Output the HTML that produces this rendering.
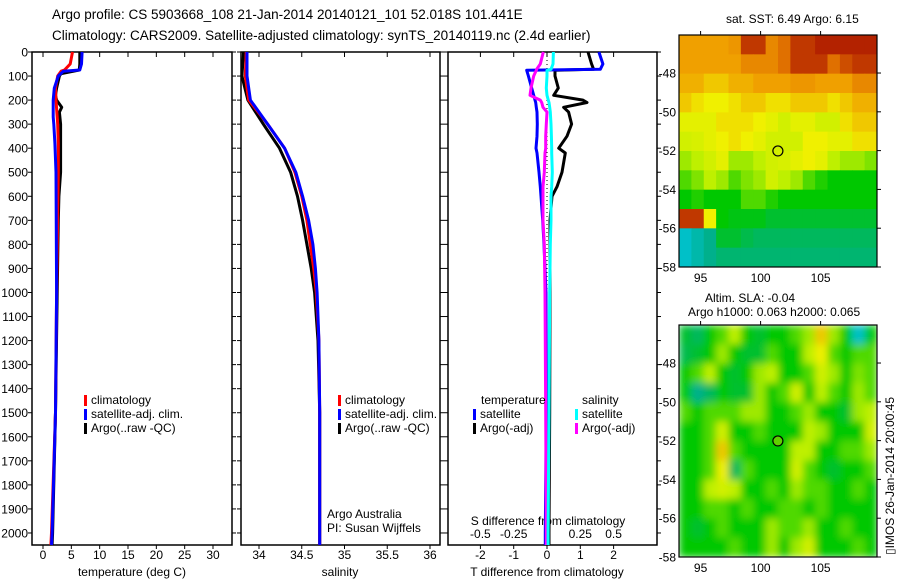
<!DOCTYPE html>
<html><head><meta charset="utf-8"><style>
body{margin:0;background:#fff;}
svg{display:block;font-family:"Liberation Sans",sans-serif;}
</style></head><body>
<svg id="c" width="900" height="580" xmlns="http://www.w3.org/2000/svg">
<defs>
<filter id="blur" x="0" y="0" width="1" height="1"><feGaussianBlur stdDeviation="4" edgeMode="duplicate"/></filter>
<clipPath id="slaclip"><rect x="679" y="325" width="198" height="232"/></clipPath>
</defs>
<text x="52" y="19" font-size="13.5">Argo profile: CS 5903668_108 21-Jan-2014 20140121_101 52.018S 101.441E</text>
<text x="52" y="40" font-size="13.5">Climatology: CARS2009. Satellite-adjusted climatology: synTS_20140119.nc (2.4d earlier)</text>
<text x="726" y="23" font-size="12">sat. SST: 6.49 Argo: 6.15</text>
<text x="705" y="302" font-size="12">Altim. SLA: -0.04</text>
<text x="688" y="316" font-size="12">Argo h1000: 0.063 h2000: 0.065</text>
<text transform="translate(894,555) rotate(-90)" font-size="12">▯IMOS 26-Jan-2014 20:00:45</text>
<text x="327" y="518" font-size="12">Argo Australia</text>
<text x="327" y="532" font-size="12">PI: Susan Wijffels</text>
<g id="g"></g>
</svg>
<script>
// ---- data ----
const depthT = [0,50,75,80,100,150,200,270,300,380,500,1000,1500,2000,2050];
const tempClim = [5.2,4.8,3.8,3.2,2.6,2.2,2.3,2.5,2.6,2.7,2.7,2.4,2.2,1.5,1.4];
const tempSat  = [6.9,6.8,6.5,3.6,2.7,2.0,1.8,1.8,1.9,2.1,2.3,2.4,2.2,1.6,1.5];
const depthArgoT = [0,50,75,90,100,150,180,200,220,230,250,300,400,500,600,700,1000,1500,2000,2050];
const tempArgo = [6.5,6.5,6.4,3.2,2.9,2.4,2.2,2.4,3.0,3.3,2.9,3.1,3.1,3.1,2.8,2.7,2.5,2.2,1.7,1.6];
const depthS = [0,100,200,300,400,500,600,700,800,900,1000,1200,1500,2000,2050];
const salClim = [33.85,33.84,33.88,34.1,34.3,34.42,34.5,34.56,34.6,34.64,34.67,34.7,34.71,34.71,34.71];
const salSat  = [33.86,33.86,33.9,34.1,34.3,34.43,34.51,34.58,34.63,34.66,34.68,34.7,34.71,34.71,34.71];
const salArgo = [33.82,33.8,33.87,34.05,34.24,34.37,34.45,34.51,34.56,34.61,34.65,34.69,34.71,34.71,34.71];
const depthD = [0,50,72,76,100,150,180,200,210,230,250,300,350,400,420,500,560,600,700,800,1000,1500,2000,2050];
const dTsat  = [1.56,1.68,1.6,-0.61,-0.56,-0.46,-0.4,-0.36,-0.34,-0.32,-0.3,-0.29,-0.3,-0.33,-0.3,-0.24,-0.2,-0.18,-0.13,-0.09,-0.03,-0.02,-0.05,-0.05];
const dTargo = [1.23,1.34,1.4,0.24,0.24,0.34,0.2,1.08,1.2,0.5,0.65,0.74,0.6,0.35,0.55,0.45,0.3,0.15,0.09,0.09,0.09,0.08,0.06,0.06];
const dSsat  = [0.048,0.045,0.03,0.0,0.0,-0.005,0.0,0.01,0.015,0.02,0.025,0.03,0.033,0.035,0.035,0.04,0.035,0.03,0.03,0.025,0.02,0.015,0.008,0.008];
const dSargo = [-0.028,-0.05,-0.078,-0.08,-0.1,-0.12,-0.128,-0.05,-0.04,-0.03,0,-0.005,-0.01,-0.01,-0.015,-0.02,-0.03,-0.03,-0.03,-0.02,-0.015,-0.01,-0.005,-0.005];
const depthTicks = [0,100,200,300,400,500,600,700,800,900,1000,1100,1200,1300,1400,1500,1600,1700,1800,1900,2000];
const tempTicks = [0,5,10,15,20,25,30];
const salTicks = [34,34.5,35,35.5,36];
const salTickLabels = ["34","34.5","35","35.5","36"];
const dTTicks = [-2,-1,0,1,2];
const dSTicks = [-0.5,-0.25,0,0.25,0.5];
const dSTickLabels = ["-0.5","-0.25","0","0.25","0.5"];
const mapLonTicks = [95,100,105];
const mapLatTicks = [-48,-50,-52,-54,-56,-58];
const sstGrid = [
[.8,.8,.8,.8,.82,.95,.95,.85,.9,.95,.95,.97,.97,.97,.97,.97],
[.8,.8,.8,.8,.8,.85,.85,.85,.9,.95,.95,.95,.9,.93,.95,.95],
[.78,.78,.75,.75,.78,.78,.8,.8,.8,.82,.82,.8,.8,.8,.85,.85],
[.75,.72,.7,.7,.72,.75,.75,.72,.72,.75,.75,.75,.72,.75,.78,.78],
[.68,.68,.68,.72,.72,.72,.7,.68,.65,.68,.68,.65,.65,.72,.75,.75],
[.65,.66,.68,.7,.72,.7,.68,.65,.65,.65,.7,.7,.68,.68,.72,.72],
[.6,.62,.65,.68,.6,.6,.62,.65,.66,.68,.7,.68,.62,.6,.6,.58],
[.55,.58,.62,.6,.55,.58,.6,.65,.62,.6,.55,.52,.5,.5,.5,.5],
[.5,.52,.5,.5,.5,.55,.55,.52,.5,.5,.5,.5,.5,.5,.5,.5],
[.95,.95,.7,.5,.48,.48,.48,.45,.45,.45,.45,.45,.45,.45,.45,.45],
[.25,.3,.35,.45,.45,.42,.4,.4,.4,.4,.4,.4,.4,.4,.4,.4],
[.25,.3,.35,.38,.38,.38,.38,.38,.38,.38,.38,.38,.38,.38,.38,.38]];
const slaGrid = [
[.45,.4,.5,.55,.62,.5,.45,.5,.5,.55,.6,.75,.6,.5,.25,.5],
[.42,.45,.5,.6,.5,.45,.45,.55,.5,.5,.62,.7,.55,.5,.55,.55],
[.5,.55,.62,.5,.45,.5,.6,.62,.5,.5,.55,.65,.6,.5,.58,.55],
[.5,.35,.4,.5,.45,.45,.6,.5,.55,.65,.5,.62,.55,.5,.6,.55],
[.55,.5,.55,.55,.55,.6,.6,.5,.5,.55,.6,.5,.5,.45,.6,.62],
[.5,.5,.55,.65,.5,.5,.55,.5,.5,.5,.62,.6,.5,.5,.5,.65],
[.5,.5,.55,.75,.55,.5,.5,.5,.5,.62,.62,.5,.5,.55,.55,.6],
[.5,.5,.55,.7,.4,.55,.5,.5,.5,.65,.55,.5,.45,.5,.5,.55],
[.5,.5,.62,.65,.62,.5,.5,.55,.5,.6,.55,.55,.5,.5,.55,.5],
[.5,.5,.55,.55,.5,.55,.5,.5,.55,.55,.5,.55,.5,.5,.5,.5],
[.5,.45,.5,.55,.5,.5,.5,.6,.55,.55,.6,.5,.5,.55,.5,.5],
[.5,.5,.5,.5,.55,.5,.5,.6,.5,.6,.65,.5,.5,.5,.55,.5]];
const argoLon = 101.441, argoLat = -52.018;

// ---- helpers ----
const NS="http://www.w3.org/2000/svg", G=document.getElementById('g');
function mk(tag,attrs,txt,parent){const e=document.createElementNS(NS,tag);for(const k in attrs)e.setAttribute(k,attrs[k]);if(txt!==undefined&&txt!==null)e.textContent=txt;(parent||G).appendChild(e);return e;}
const Y0=52,Y1=545;
const yD = d => Y0 + d*(Y1-Y0)/2050;
const xT = v => 43 + v*5.667;
const xS = v => 259 + (v-34)*85.5;
const xDT = v => 547 + v*33.3;
const xDS = v => 547 + v*133.2;
const panels=[[32,232],[241,440],[448,657]];

function line(xs,ds,fx,col,name,w){
  let p=xs.map((v,i)=>(i?'L':'M')+fx(v).toFixed(1)+','+yD(ds[i]).toFixed(1)).join('');
  const e=mk('path',{d:p,fill:'none',stroke:col,'stroke-width':w||3,'stroke-linejoin':'round'});
  
  
}
panels.forEach((p,i)=>{
  const r=mk('rect',{x:p[0],y:Y0,width:p[1]-p[0],height:Y1-Y0,fill:'none',stroke:'#000','stroke-width':1.5});
  
  
  depthTicks.forEach(d=>{
    mk('line',{x1:p[0]-4,x2:p[0],y1:yD(d),y2:yD(d),stroke:'#000'});
    mk('line',{x1:p[1],x2:p[1]+4,y1:yD(d),y2:yD(d),stroke:'#000'});
  });
});
depthTicks.forEach(d=>{
  const t=mk('text',{x:28,y:yD(d)+4.5,'text-anchor':'end','font-size':12},String(d));
  
  
});
function xticks(ticks,labels,fx,ty,top){
  ticks.forEach((v,i)=>{
    const x=fx(v);
    if(top){mk('line',{x1:x,x2:x,y1:Y0,y2:Y0+5,stroke:'#000'});}
    mk('line',{x1:x,x2:x,y1:Y1,y2:Y1+4,stroke:'#000'});
    const t=mk('text',{x:x,y:ty,'text-anchor':'middle','font-size':12},labels[i]);
    
    
  });
}
xticks(tempTicks,tempTicks.map(String),xT,559,true);
xticks(salTicks,salTickLabels,xS,559,true);
xticks(dTTicks,dTTicks.map(String),xDT,559,true);
dSTicks.forEach((v,i)=>{
  const t=mk('text',{x:xDS(v),y:538,'text-anchor':'middle','font-size':12},dSTickLabels[i]);
  
  
});
[['temperature (deg C)',132,'x-axis-title-temperature'],['salinity',340,'x-axis-title-salinity'],['T difference from climatology',547,'x-axis-title-t-diff']].forEach(a=>{
  const t=mk('text',{x:a[1],y:576,'text-anchor':'middle','font-size':12},a[0]);
  
  
});
{const t=mk('text',{x:548,y:525,'text-anchor':'middle','font-size':12},'S difference from climatology');

}
{const z=mk('line',{x1:547,x2:547,y1:Y0,y2:Y1,stroke:'#000','stroke-dasharray':'1,3'});

}
line(tempArgo,depthArgoT,xT,'#000','temp-argo-line');
line(tempClim,depthT,xT,'#f00','temp-climatology-line');
line(tempSat,depthT,xT,'#00f','temp-satellite-line');
line(salArgo,depthS,xS,'#000','sal-argo-line');
line(salClim,depthS,xS,'#f00','sal-climatology-line');
line(salSat,depthS,xS,'#00f','sal-satellite-line');
line(dTargo,depthD,xDT,'#000','tdiff-argo-line');
line(dTsat,depthD,xDT,'#00f','tdiff-satellite-line');
line(dSargo,depthD,xDS,'#f0f','sdiff-argo-line');
line(dSsat,depthD,xDS,'#0ff','sdiff-satellite-line');
function leg(x,y,col,txt,name){
  const r=mk('rect',{x:x,y:y-9,width:3,height:11,fill:col});
  
  
  const t=mk('text',{x:x+7,y:y,'font-size':12},txt);
  
  
}
leg(84,404,'#f00','climatology','legend-climatology');
leg(84,418,'#00f','satellite-adj. clim.','legend-satellite');
leg(84,432,'#000','Argo(..raw -QC)','legend-argo');
leg(338,404,'#f00','climatology','legend-climatology-2');
leg(338,418,'#00f','satellite-adj. clim.','legend-satellite-2');
leg(338,432,'#000','Argo(..raw -QC)','legend-argo-2');
{const t=mk('text',{x:481,y:404,'font-size':12},'temperature');}
{const t=mk('text',{x:582,y:404,'font-size':12},'salinity');}
leg(473,418,'#00f','satellite','legend-t-satellite');
leg(473,432,'#000','Argo(-adj)','legend-t-argo');
leg(575,418,'#0ff','satellite','legend-s-satellite');
leg(575,432,'#f0f','Argo(-adj)','legend-s-argo');
const stops=[[0,[16,48,255]],[0.2,[0,200,230]],[0.35,[0,176,140]],[0.5,[0,200,0]],[0.62,[190,240,0]],[0.7,[240,240,0]],[0.8,[240,160,0]],[0.9,[224,112,0]],[1,[160,0,0]]];
function cmap(v){for(let i=1;i<stops.length;i++){if(v<=stops[i][0]){const a=stops[i-1],b=stops[i],t=(v-a[0])/(b[0]-a[0]);return 'rgb('+a[1].map((c,k)=>Math.round(c+(b[1][k]-c)*t)).join(',')+')';}}return 'rgb(160,0,0)';}
const MX0=679,MX1=877,LON0=93.2,LON1=109.7,LAT0=-46.04,LAT1=-58;
function drawMap(top,grid,name,fillMarker,smooth){
  const bot=top+232;
  const mxf=l=>MX0+(l-LON0)*(MX1-MX0)/(LON1-LON0);
  const myf=l=>top+(l-LAT0)*(bot-top)/(LAT1-LAT0);
  const rows=grid.length, cols=grid[0].length;
  const cw=(MX1-MX0)/cols, ch=(bot-top)/rows;
  let parent=G;
  if(smooth){
    const outer=mk('g',{'clip-path':'url(#slaclip)'});
    
    
    parent=mk('g',{filter:'url(#blur)'},null,outer);
  }
  grid.forEach((row,r)=>row.forEach((v,c)=>{
    const e=mk('rect',{x:MX0+c*cw,y:top+r*ch,width:cw+0.5,height:ch+0.5,fill:cmap(v)},null,parent);
    
    
  }));
  const f=mk('rect',{x:MX0,y:top,width:MX1-MX0,height:bot-top,fill:'none',stroke:'#000','stroke-width':1.2});
  
  
  mapLonTicks.forEach(l=>{
    const x=mxf(l);
    mk('line',{x1:x,x2:x,y1:top-4,y2:top,stroke:'#000'});
    const t=mk('text',{x:x,y:bot+15,'text-anchor':'middle','font-size':12},String(l));
    
    
  });
  mapLatTicks.forEach(l=>{
    const y=myf(l);
    mk('line',{x1:MX1,x2:MX1+4,y1:y,y2:y,stroke:'#000'});
    const t=mk('text',{x:676,y:y+4.5,'text-anchor':'end','font-size':12},String(l));
    
    
  });
  const m=mk('circle',{cx:mxf(argoLon),cy:myf(argoLat),r:5,fill:fillMarker,stroke:'#000','stroke-width':1.2});
  
  
}
drawMap(35,sstGrid,'sst-map','none',false);
drawMap(325,slaGrid,'sla-map','#60d000',true);
</script>
</body></html>
